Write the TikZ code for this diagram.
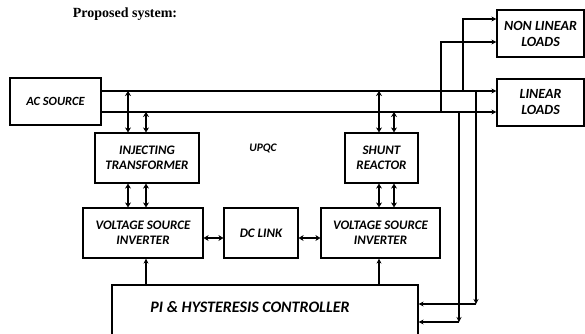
\documentclass[tikz,border=0pt]{standalone}
\usepackage{fontspec}
\setmainfont{Liberation Serif}
\newfontfamily\blockfont{Carlito}
\usetikzlibrary{arrows.meta, positioning}

\begin{document}
\begin{tikzpicture}[x=1pt, y=-1pt,
    box/.style={draw, line width=1.2pt, minimum width=#1, minimum height=50pt, align=center, inner sep=1pt,
        font=\blockfont\bfseries\itshape\fontsize{13}{15}\selectfont},
    arrow/.style={-{Stealth[length=5pt, width=5pt]}, line width=1.3pt},
    dblarrow/.style={{Stealth[length=5pt, width=6pt]}-{Stealth[length=5pt, width=6pt]}, line width=1.3pt}
]
\useasboundingbox (0,0) rectangle (585,333);

\node[font=\bfseries\fontsize{14}{16}\selectfont] (title) at (125,14) {Proposed system:};

\node[box=91pt, minimum height=47pt, font=\blockfont\bfseries\itshape\fontsize{12.5}{14}\selectfont] (src) at (55.5,101.5) {AC SOURCE};
\node[box=104pt] (inj) at (147,158) {INJECTING\\TRANSFORMER};
\node[box=73pt] (shunt) at (381.5,158) {SHUNT\\REACTOR};
\node[box=120pt] (vsiL) at (143,233) {VOLTAGE SOURCE\\INVERTER};
\node[box=74pt] (dc) at (261,233) {DC LINK};
\node[box=119pt] (vsiR) at (380.5,233) {VOLTAGE SOURCE\\INVERTER};
\node[box=306pt, minimum height=54pt] (ctrl) at (265,312) {};
\node[font=\blockfont\bfseries\itshape\fontsize{16}{18}\selectfont] (ctrltxt) at (250,307) {PI \& HYSTERESIS CONTROLLER};
\node[box=87pt, minimum height=47pt, font=\blockfont\bfseries\itshape\fontsize{14}{16}\selectfont] (nll) at (540.5,33.5) {NON LINEAR\\LOADS};
\node[box=87pt, minimum height=47pt, font=\blockfont\bfseries\itshape\fontsize{14}{16}\selectfont] (ll) at (540.5,102.5) {LINEAR\\LOADS};
\node[font=\blockfont\bfseries\itshape\fontsize{11.5}{13}\selectfont] (upqc) at (263,148) {UPQC};

% bus lines
\coordinate (bt) at (101,91);
\coordinate (bb) at (101,112);
\draw[arrow] (bt) -- (bt -| ll.west);
\draw[arrow] (bb) -- (bb -| ll.west);

% series and shunt branches
\draw[dblarrow] (inj.north -| 128,0) -- (bt -| 128,0);
\draw[dblarrow] (inj.north -| 146,0) -- (bb -| 146,0);
\draw[dblarrow] (inj.south -| 128,0) -- (vsiL.north -| 128,0);
\draw[dblarrow] (inj.south -| 146,0) -- (vsiL.north -| 146,0);
\draw[dblarrow] (shunt.north -| 379,0) -- (bt -| 379,0);
\draw[dblarrow] (shunt.north -| 394,0) -- (bb -| 394,0);
\draw[dblarrow] (shunt.south -| 379,0) -- (vsiR.north -| 379,0);
\draw[dblarrow] (shunt.south -| 394,0) -- (vsiR.north -| 394,0);
\draw[dblarrow] ([yshift=-5pt]vsiL.east) -- ([yshift=-5pt]dc.west);
\draw[dblarrow] ([yshift=-5pt]dc.east) -- ([yshift=-5pt]vsiR.west);

% controller outputs
\draw[arrow] (ctrl.north -| 146,0) -- (vsiL.south -| 146,0);
\draw[arrow] (ctrl.north -| 379,0) -- (vsiR.south -| 379,0);

% loads
\draw[arrow] (bt -| 463,0) |- ([yshift=14.5pt]nll.west);
\draw[arrow] (bb -| 441,0) |- ([yshift=-8.5pt]nll.west);

% measurements
\coordinate (m1) at (476,304);
\coordinate (m2) at (459,322);
\draw[arrow] (bt -| m1) -- (m1);
\draw[arrow] (m1) -- (m1 -| ctrl.east);
\draw[arrow] (bb -| m2) -- (m2);
\draw[arrow] (m2) -- (m2 -| ctrl.east);
\end{tikzpicture}
\end{document}
